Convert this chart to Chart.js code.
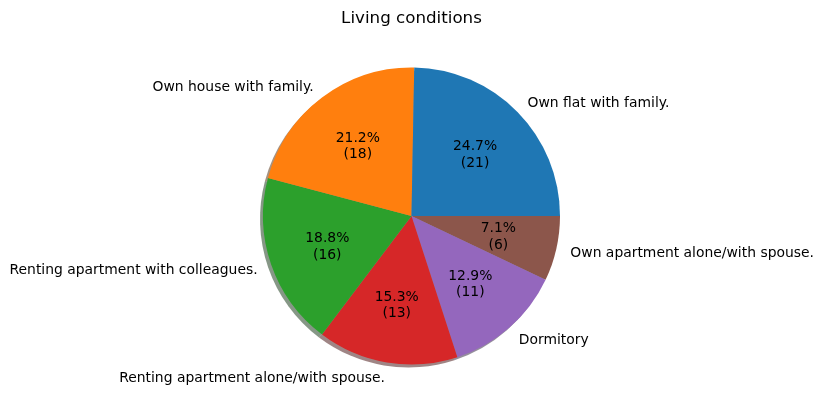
<!DOCTYPE html>
<html>
<head>
<meta charset="utf-8">
<script src="https://cdn.jsdelivr.net/npm/chart.js@4"></script>
<style>
html,body{margin:0;padding:0;background:#fff;}
canvas{display:block;}
</style>
</head>
<body>
<canvas id="c" width="823" height="411"></canvas>
<script>
const categories = [
  "Own flat with family.",
  "Own house with family.",
  "Renting apartment with colleagues.",
  "Renting apartment alone/with spouse.",
  "Dormitory",
  "Own apartment alone/with spouse."
];
const counts = [21, 18, 16, 13, 11, 6];
const colors = ["#1f77b4", "#ff7f0e", "#2ca02c", "#d62728", "#9467bd", "#8c564b"];
const titleText = "Living conditions";

// matplotlib draws counter-clockwise from 3 o'clock; Chart.js clockwise -> reverse
const revLabels = categories.slice().reverse();
const revCounts = counts.slice().reverse();
const revColors = colors.slice().reverse();
const total = counts.reduce((a, b) => a + b, 0);

function hexToRgb(h) {
  const n = parseInt(h.slice(1), 16);
  return [(n >> 16) & 255, (n >> 8) & 255, n & 255];
}

const FONT = '"DejaVu Sans", sans-serif';
const TEXT_DY = 1.5;

const pieDecor = {
  id: 'pieDecor',
  beforeDatasetsDraw(chart) {
    const ctx = chart.ctx;
    const meta = chart.getDatasetMeta(0);
    ctx.save();
    meta.data.forEach((arc, i) => {
      const p = arc.getProps(['x', 'y', 'startAngle', 'endAngle', 'outerRadius'], true);
      const off = 0.02 * p.outerRadius;
      const rgb = hexToRgb(revColors[i]);
      ctx.fillStyle = `rgba(${Math.round(rgb[0]*0.3)},${Math.round(rgb[1]*0.3)},${Math.round(rgb[2]*0.3)},0.5)`;
      ctx.beginPath();
      ctx.moveTo(p.x - off, p.y + off);
      ctx.arc(p.x - off, p.y + off, p.outerRadius, p.startAngle, p.endAngle);
      ctx.closePath();
      ctx.fill();
    });
    ctx.restore();
  },
  afterDatasetsDraw(chart) {
    const ctx = chart.ctx;
    const meta = chart.getDatasetMeta(0);
    ctx.save();
    ctx.fillStyle = '#000';
    ctx.font = '13.9px ' + FONT;
    meta.data.forEach((arc, i) => {
      const p = arc.getProps(['x', 'y', 'startAngle', 'endAngle', 'outerRadius'], true);
      const m = (p.startAngle + p.endAngle) / 2;
      const c = Math.cos(m), s = Math.sin(m);
      // outer label
      const lx = p.x + 1.1 * p.outerRadius * c;
      const ly = p.y + 1.1 * p.outerRadius * s + TEXT_DY;
      ctx.textAlign = c > 0 ? 'left' : 'right';
      ctx.textBaseline = 'middle';
      ctx.fillText(revLabels[i], lx - (c > 0 ? 0.5 : -0.5), ly);
      // inner pct label
      const ix = p.x + 0.6 * p.outerRadius * c;
      const iy = p.y + 0.6 * p.outerRadius * s + TEXT_DY;
      const v = revCounts[i];
      const pct = (v / total * 100).toFixed(1) + '%';
      ctx.textAlign = 'center';
      const lh = 16.7;
      ctx.fillText(pct, ix, iy - lh / 2);
      ctx.fillText('(' + v + ')', ix, iy + lh / 2);
    });
    // title
    ctx.font = '16.7px ' + FONT;
    ctx.textAlign = 'center';
    ctx.textBaseline = 'middle';
    ctx.fillText(titleText, 411.5, 19);
    ctx.restore();
  }
};

new Chart(document.getElementById('c'), {
  type: 'pie',
  data: {
    labels: revLabels,
    datasets: [{
      data: revCounts,
      backgroundColor: revColors,
      borderWidth: 0,
      hoverOffset: 0
    }]
  },
  options: {
    responsive: false,
    animation: false,
    events: [],
    rotation: 90,
    layout: { padding: { top: 67.5, bottom: 46.5, left: 263, right: 263 } },
    plugins: {
      legend: { display: false },
      title: { display: false },
      tooltip: { enabled: false }
    }
  },
  plugins: [pieDecor]
});
</script>
</body>
</html>
